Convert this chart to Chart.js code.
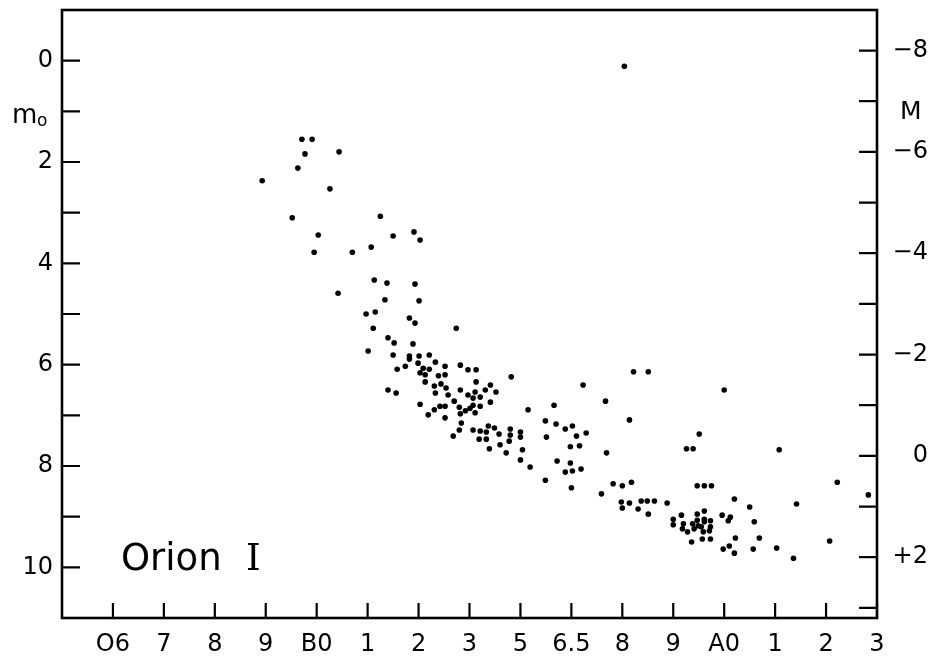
<!DOCTYPE html>
<html>
<head>
<meta charset="utf-8">
<title>Orion I</title>
<script src="https://cdn.jsdelivr.net/npm/chart.js@4.4.1/dist/chart.umd.min.js"></script>
<style>
    html, body { margin: 0; padding: 0; background: #fff; }
    #wrap { width: 937px; height: 657px; position: relative; }
</style>
</head>
<body>
<div id="wrap"><canvas id="hrChart"></canvas></div>
<script>
// spectral type axis: index 0 = O6 ... 15 = A3
const spectralTypes = ['O6', '7', '8', '9', 'B0', '1', '2', '3', '5', '6.5', '8', '9', 'A0', '1', '2', '3'];
const m0Ticks = [0, 1, 2, 3, 4, 5, 6, 7, 8, 9, 10];
const absMagTicks = [-8, -7, -6, -5, -4, -3, -2, -1, 0, 1, 2, 3];
const absMagLabels = { '-8': '\u22128', '-6': '\u22126', '-4': '\u22124', '-2': '\u22122', '0': '0', '2': '+2' };

// stars: spectral type position and m0
const spType = [
    10.04, 2.93, 3.63, 3.77, 3.71, 3.91, 4.44, 3.52, 4.26, 4.03,
    3.95, 4.70, 5.07, 5.25, 5.50, 5.91, 6.03, 5.13, 5.38, 5.93,
    4.42, 5.34, 6.01, 4.97, 5.15, 5.82, 5.93, 5.11, 6.74, 5.40,
    5.52, 5.89, 5.01, 5.50, 5.82, 5.82, 6.01, 6.21, 5.99, 6.33,
    6.52, 6.82, 5.58, 5.74, 6.09, 6.21, 6.97, 7.13, 6.03, 6.13,
    6.39, 6.52, 7.82, 6.13, 6.44, 6.31, 7.13, 7.41, 6.54, 5.40,
    5.56, 6.33, 6.82, 7.11, 7.31, 7.52, 6.58, 6.97, 7.21, 7.07,
    6.70, 7.41, 6.03, 6.42, 6.52, 6.80, 7.07, 7.21, 7.01, 6.92,
    6.82, 7.11, 8.15, 6.31, 6.19, 6.52, 6.84, 6.80, 6.68, 7.07,
    7.21, 7.33, 7.37, 7.49, 7.19, 7.33, 7.58, 7.80, 7.80, 7.78,
    8.00, 8.00, 7.60, 7.39, 8.04, 7.72, 8.00, 8.19, 9.23, 8.66,
    9.67, 10.22, 10.51, 10.14, 8.49, 8.70, 8.88, 9.02, 9.10, 9.29,
    8.51, 8.98, 9.16, 9.69, 8.72, 8.98, 8.88, 9.02, 9.19, 8.49,
    9.00, 9.59, 9.82, 10.00, 10.18, 12.00, 11.51, 11.26, 11.39, 13.08,
    11.47, 11.61, 11.75, 12.20, 12.50, 9.98, 10.14, 10.37, 10.49, 10.63,
    10.88, 10.00, 10.31, 10.51, 11.00, 11.16, 11.00, 11.20, 11.18, 11.28,
    11.36, 11.47, 11.61, 11.47, 11.61, 11.38, 11.49, 11.41, 11.55, 11.61,
    11.73, 11.73, 11.71, 11.59, 11.57, 11.73, 11.96, 12.12, 12.08, 12.59,
    12.22, 12.69, 11.98, 12.10, 12.20, 12.57, 13.03, 13.36, 13.42, 14.22,
    14.83, 14.07
];
const m0 = [
    0.11, 2.37, 2.12, 1.84, 1.55, 1.55, 1.80, 3.10, 2.53, 3.44,
    3.78, 3.78, 3.68, 3.07, 3.46, 3.38, 3.54, 4.33, 4.39, 4.41,
    4.59, 4.72, 4.74, 5.00, 4.96, 5.08, 5.18, 5.28, 5.28, 5.47,
    5.57, 5.59, 5.73, 5.81, 5.83, 5.89, 5.83, 5.81, 5.97, 5.95,
    6.03, 6.01, 6.09, 6.03, 6.07, 6.09, 6.10, 6.10, 6.16, 6.20,
    6.22, 6.20, 6.24, 6.34, 6.38, 6.42, 6.34, 6.40, 6.46, 6.50,
    6.56, 6.56, 6.50, 6.54, 6.50, 6.54, 6.60, 6.60, 6.64, 6.66,
    6.72, 6.74, 6.78, 6.82, 6.82, 6.84, 6.80, 6.82, 6.86, 6.91,
    6.97, 6.95, 6.89, 6.89, 6.99, 7.05, 7.15, 7.29, 7.41, 7.29,
    7.31, 7.33, 7.21, 7.25, 7.47, 7.47, 7.37, 7.27, 7.39, 7.51,
    7.33, 7.43, 7.58, 7.66, 7.68, 7.74, 7.88, 8.02, 6.40, 6.80,
    6.72, 6.14, 6.14, 7.09, 7.11, 7.17, 7.27, 7.21, 7.41, 7.35,
    7.43, 7.62, 7.60, 7.74, 7.90, 7.94, 8.12, 8.10, 8.06, 8.28,
    8.43, 8.55, 8.35, 8.39, 8.32, 6.50, 7.37, 7.66, 7.66, 7.68,
    8.39, 8.39, 8.39, 8.65, 8.81, 8.71, 8.73, 8.69, 8.69, 8.69,
    8.73, 8.83, 8.85, 8.95, 9.05, 8.97, 9.16, 9.14, 9.24, 9.30,
    9.50, 8.95, 8.89, 9.07, 9.05, 9.14, 9.18, 9.24, 9.20, 9.10,
    9.08, 9.20, 9.28, 9.30, 9.44, 9.44, 8.97, 9.01, 9.08, 9.10,
    9.42, 9.42, 9.64, 9.58, 9.72, 9.64, 9.62, 9.82, 8.75, 8.32,
    8.57, 9.48
];

const FONT = 'DejaVu Sans';

// box frame, inward tick marks and the free text labels
const frameAndLabels = {
    id: 'frameAndLabels',
    afterDatasetsDraw(chart) {
        const { ctx, chartArea: a, scales } = chart;
        ctx.save();
        ctx.strokeStyle = '#000';
        ctx.lineWidth = 2.6;
        ctx.strokeRect(a.left, a.top, a.right - a.left, a.bottom - a.top);

        ctx.lineWidth = 2.2;
        ctx.beginPath();
        scales.x.ticks.forEach(t => {
            const px = scales.x.getPixelForValue(t.value);
            ctx.moveTo(px, a.bottom);
            ctx.lineTo(px, a.bottom - 15);
        });
        scales.y.ticks.forEach(t => {
            const py = scales.y.getPixelForValue(t.value);
            ctx.moveTo(a.left, py);
            ctx.lineTo(a.left + 18, py);
        });
        scales.y2.ticks.forEach(t => {
            const py = scales.y2.getPixelForValue(t.value);
            ctx.moveTo(a.right, py);
            ctx.lineTo(a.right - 18, py);
        });
        ctx.stroke();

        ctx.fillStyle = '#000';
        ctx.textBaseline = 'alphabetic';
        ctx.textAlign = 'left';
        ctx.font = '26px "' + FONT + '"';
        ctx.fillText('m', 12, 123);
        ctx.font = '17px "' + FONT + '"';
        ctx.fillText('o', 37, 126);
        ctx.font = '25px "' + FONT + '"';
        ctx.fillText('M', 900, 119);
        ctx.font = '37px "' + FONT + '"';
        ctx.fillText('Orion', 121, 570);
        ctx.font = '37px "DejaVu Serif"';
        ctx.fillText('I', 246, 570);
        ctx.restore();
    }
};

const tickFont = { family: FONT, size: 24 };

// fix the axis boxes so the plot area sits where the original frame is
function fitVertical(width) {
    return s => { s.width = width; s.paddingTop = 0; s.paddingBottom = 0; };
}

new Chart(document.getElementById('hrChart').getContext('2d'), {
    type: 'scatter',
    data: {
        datasets: [{
            label: 'Orion I',
            data: spType.map((x, i) => ({ x: x, y: m0[i] })),
            pointRadius: 2.8,
            pointBackgroundColor: '#000',
            pointBorderWidth: 0,
            yAxisID: 'y'
        }]
    },
    options: {
        responsive: true,
        maintainAspectRatio: false,
        animation: false,
        layout: { padding: { top: 10, left: 0, right: 9, bottom: 0 } },
        plugins: {
            legend: { display: false },
            tooltip: { enabled: false }
        },
        scales: {
            x: {
                type: 'linear',
                position: 'bottom',
                min: -1,
                max: 15,
                afterBuildTicks: s => { s.ticks = spectralTypes.map((_, i) => ({ value: i })); },
                afterFit: s => { s.height = 39; s.paddingLeft = 0; s.paddingRight = 0; },
                grid: { display: false, drawTicks: false },
                border: { display: false },
                ticks: {
                    color: '#000',
                    font: tickFont,
                    padding: 12,
                    maxRotation: 0,
                    autoSkip: false,
                    callback: v => spectralTypes[v] ?? ''
                }
            },
            y: {
                type: 'linear',
                position: 'left',
                reverse: true,
                min: -1,
                max: 11,
                afterBuildTicks: s => { s.ticks = m0Ticks.map(v => ({ value: v })); },
                afterFit: fitVertical(62),
                grid: { display: false, drawTicks: false },
                border: { display: false },
                ticks: {
                    color: '#000',
                    font: tickFont,
                    padding: 9,
                    autoSkip: false,
                    callback: v => (v % 2 === 0 ? String(v) : '')
                }
            },
            y2: {
                type: 'linear',
                position: 'right',
                reverse: true,
                min: -8.8,
                max: 3.2,
                afterBuildTicks: s => { s.ticks = absMagTicks.map(v => ({ value: v })); },
                afterFit: fitVertical(51),
                grid: { display: false, drawTicks: false },
                border: { display: false },
                ticks: {
                    color: '#000',
                    font: tickFont,
                    padding: 9,
                    crossAlign: 'far',
                    autoSkip: false,
                    callback: v => absMagLabels[String(v)] ?? ''
                }
            }
        }
    },
    plugins: [frameAndLabels]
});
</script>
</body>
</html>
